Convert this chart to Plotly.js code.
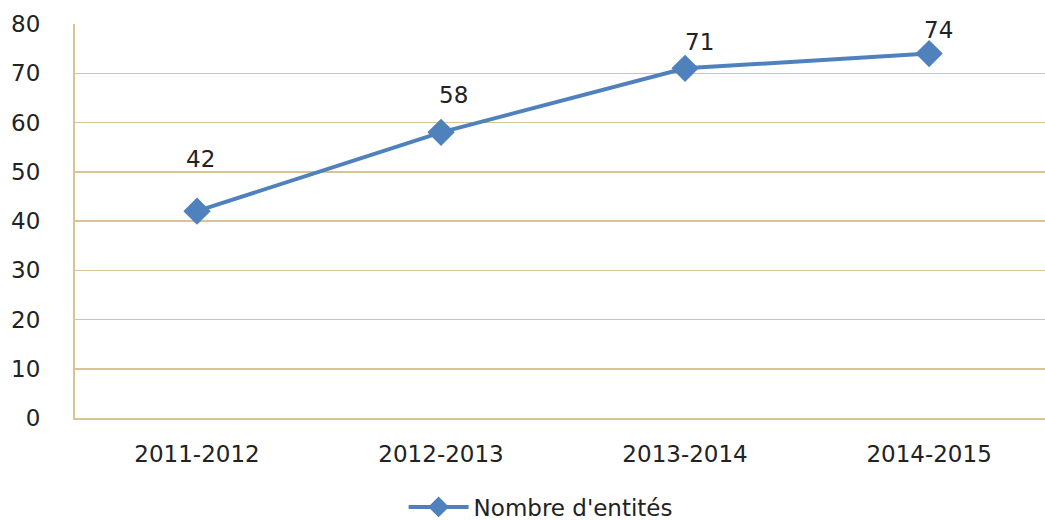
<!DOCTYPE html>
<html>
<head>
<meta charset="utf-8">
<script src="https://cdn.plot.ly/plotly-3.0.1.min.js"></script>
<style>html,body{margin:0;padding:0;background:#fff;}#chart{width:1045px;height:520px;}</style>
</head>
<body>
<div id="chart"></div>
<script>
var categories = ["2011-2012", "2012-2013", "2013-2014", "2014-2015"];
var values = [42, 58, 71, 74];
var seriesName = "Nombre d'entités";
var labelShiftsY = [38, 23, 12, 10];
var labelShiftsX = [3, 12, 14, 9];

var FONT = 'DejaVu Sans, sans-serif';
var GRID = '#D9C494';

var trace = {
  x: categories,
  y: values,
  type: 'scatter',
  mode: 'lines+markers',
  name: seriesName,
  line: {color: '#4F81BD', width: 4},
  marker: {symbol: 'diamond', size: 21, color: '#4F81BD'},
  cliponaxis: false
};

var annotations = categories.map(function(c, i){
  return {x: c, y: values[i], text: String(values[i]), showarrow: false,
          yshift: labelShiftsY[i] + 14, xshift: labelShiftsX[i],
          font: {family: FONT, size: 23, color: '#222'}};
});

var layout = {
  width: 1045, height: 520,
  margin: {l: 75, r: 0, t: 24, b: 102, autoexpand: false},
  paper_bgcolor: '#fff', plot_bgcolor: '#fff',
  font: {family: FONT, size: 23, color: '#222'},
  xaxis: {
    type: 'category', range: [-0.5, 3.475],
    showgrid: false, zeroline: false,
    showline: true, linecolor: GRID, linewidth: 2,
    ticks: 'outside', ticklen: 14, tickcolor: 'rgba(0,0,0,0)',
    tickfont: {family: FONT, size: 23, color: '#222'}
  },
  yaxis: {
    range: [0, 80], dtick: 10,
    showgrid: true, gridcolor: GRID, gridwidth: 1.5,
    zeroline: false,
    showline: true, linecolor: GRID, linewidth: 2,
    ticks: 'outside', ticklen: 28, tickcolor: 'rgba(0,0,0,0)',
    tickfont: {family: FONT, size: 23, color: '#222'}
  },
  showlegend: true,
  legend: {orientation: 'h', x: 0.48, xanchor: 'center', yref: 'container', y: 0.025, yanchor: 'middle',
           font: {family: FONT, size: 23, color: '#222'}, itemwidth: 60},
  annotations: annotations
};

Plotly.newPlot('chart', [trace], layout, {displayModeBar: false, staticPlot: true});
</script>
</body>
</html>
